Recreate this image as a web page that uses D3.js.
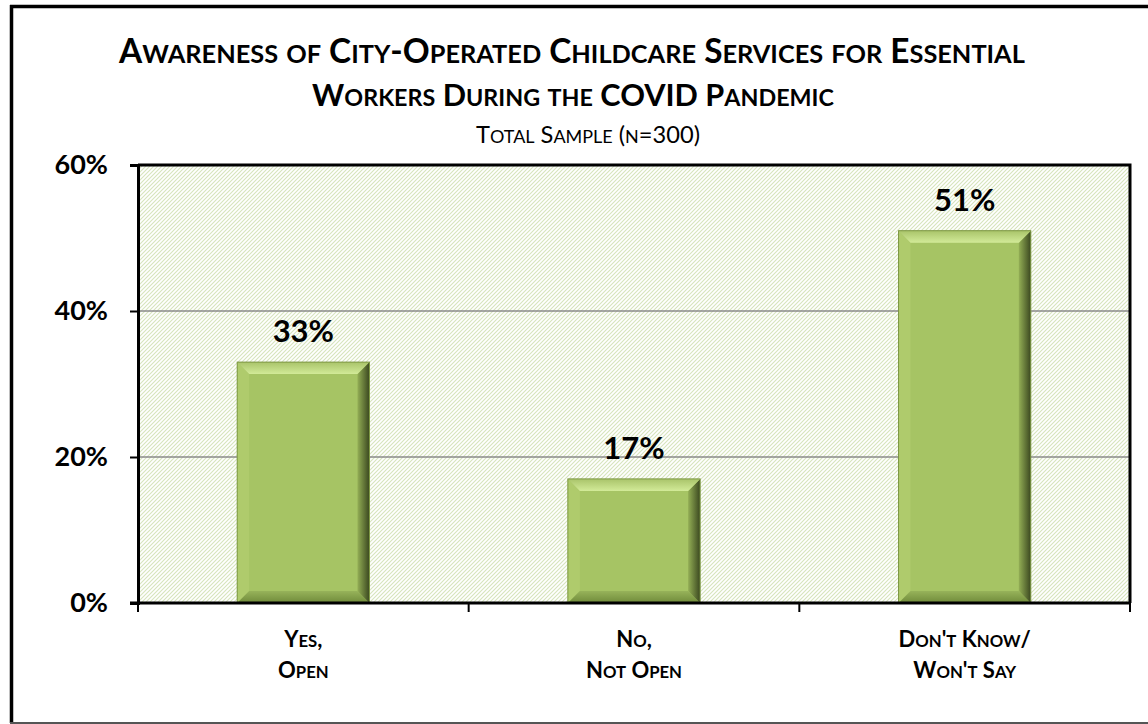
<!DOCTYPE html>
<html>
<head>
<meta charset="utf-8">
<script src="https://cdn.jsdelivr.net/npm/d3@7/dist/d3.min.js"></script>
<style>
  body { margin: 0; background: #fff; }
  svg { display: block; font-family: Lato, "Open Sans", sans-serif; }
</style>
</head>
<body>
<svg id="chart"></svg>
<script>
// chart data
const categories = [["Yes,", "Open"], ["No,", "Not Open"], ["Don't Know/", "Won't Say"]];
const values = [33, 17, 51];
const yTicks = [0, 20, 40, 60];

const W = 1148, H = 724;
const svg = d3.select("#chart").attr("width", W).attr("height", H);

// plot area bounds
const plot = { left: 138, right: 1130, top: 165, bottom: 603 };

// write small caps by hand: lowercase runs become smaller capitals
function smallCaps(sel, str, size, ratio = 0.76) {
    sel.selectAll("tspan").remove();
    const runs = str.match(/[a-z]+|[^a-z]+/g) || [];
    runs.forEach(r => {
        const lower = /[a-z]/.test(r[0]);
        sel.append("tspan")
            .attr("font-size", lower ? size * ratio : size)
            .text(r.toUpperCase());
    });
}

// small caps text whose size is tuned to reach a given width
function fitCaps(sel, str, size, width) {
    smallCaps(sel, str, size);
    const w = sel.node().getComputedTextLength();
    smallCaps(sel, str, size * width / w);
}

const defs = svg.append("defs");

// diagonal hatch for plot background
const pat = defs.append("pattern")
    .attr("id", "hatch")
    .attr("patternUnits", "userSpaceOnUse")
    .attr("width", 4).attr("height", 4);
pat.append("rect").attr("width", 4).attr("height", 4).attr("fill", "#fff");
pat.append("path")
    .attr("d", "M-1,1 l2,-2 M0,4 l4,-4 M3,5 l2,-2")
    .attr("stroke", "#d6e4bc")
    .attr("stroke-width", 1.1);

// bevel gradients
const gr = defs.append("linearGradient").attr("id", "gRight")
    .attr("x1", 0).attr("x2", 1).attr("y1", 0).attr("y2", 0);
gr.append("stop").attr("offset", 0).attr("stop-color", "#93ae55");
gr.append("stop").attr("offset", 1).attr("stop-color", "#3b4820");

const gt = defs.append("linearGradient").attr("id", "gTop")
    .attr("x1", 0).attr("x2", 0).attr("y1", 0).attr("y2", 1);
gt.append("stop").attr("offset", 0).attr("stop-color", "#a9c46a");
gt.append("stop").attr("offset", 1).attr("stop-color", "#d2ea98");

const gb = defs.append("linearGradient").attr("id", "gBottom")
    .attr("x1", 0).attr("x2", 0).attr("y1", 0).attr("y2", 1);
gb.append("stop").attr("offset", 0).attr("stop-color", "#97b35a");
gb.append("stop").attr("offset", 1).attr("stop-color", "#6f8a3a");

// outer frame
svg.append("line").attr("x1", 10).attr("x2", W).attr("y1", 6.5).attr("y2", 6.5)
    .attr("stroke", "#000").attr("stroke-width", 3.5);
svg.append("line").attr("x1", 11.5).attr("x2", 11.5).attr("y1", 5).attr("y2", 723)
    .attr("stroke", "#000").attr("stroke-width", 3.5);
svg.append("line").attr("x1", 10).attr("x2", W).attr("y1", 723).attr("y2", 723)
    .attr("stroke", "#555").attr("stroke-width", 2);

// titles
const t1 = svg.append("text").attr("x", 572).attr("y", 63)
    .attr("text-anchor", "middle").attr("font-weight", "bold");
fitCaps(t1, "Awareness of City-Operated Childcare Services for Essential", 33, 906);
const t2 = svg.append("text").attr("x", 573).attr("y", 106)
    .attr("text-anchor", "middle").attr("font-weight", "bold");
fitCaps(t2, "Workers During the COVID Pandemic", 33, 522);
const st = svg.append("text").attr("x", 588).attr("y", 143)
    .attr("text-anchor", "middle");
fitCaps(st, "Total Sample (n=300)", 23, 224);

// scales
const x = d3.scaleBand()
    .domain(d3.range(categories.length))
    .range([plot.left, plot.right])
    .paddingInner(0.6)
    .paddingOuter(0.3);

const y = d3.scaleLinear()
    .domain([0, 60])
    .range([plot.bottom, plot.top]);

// background
svg.append("rect")
    .attr("x", plot.left).attr("y", plot.top)
    .attr("width", plot.right - plot.left).attr("height", plot.bottom - plot.top)
    .attr("fill", "url(#hatch)");

// gridlines
svg.append("g")
    .selectAll("line")
    .data(yTicks.filter(d => d > 0 && d < 60))
    .join("line")
    .attr("x1", plot.left).attr("x2", plot.right)
    .attr("y1", d => y(d)).attr("y2", d => y(d))
    .attr("stroke", "#8a8a8a").attr("stroke-width", 1.5);

// bars with bevel
const b = 12;
const bars = svg.append("g")
    .selectAll("g")
    .data(values)
    .join("g");

bars.each(function(v, i) {
    const g = d3.select(this);
    const x0 = x(i), x1 = x(i) + x.bandwidth();
    const y0 = y(v), y1 = y(0);
    g.append("rect")
        .attr("x", x0).attr("y", y0).attr("width", x1 - x0).attr("height", y1 - y0)
        .attr("fill", "#a6c464");
    const poly = (pts, fill) => g.append("polygon")
        .attr("points", pts.map(p => p.join(",")).join(" "))
        .attr("fill", fill);
    poly([[x0, y0], [x0 + b, y0 + b], [x0 + b, y1 - b], [x0, y1]], "#afcb6c");
    poly([[x0, y1], [x0 + b, y1 - b], [x1 - b, y1 - b], [x1, y1]], "url(#gBottom)");
    poly([[x1, y0], [x1, y1], [x1 - b, y1 - b], [x1 - b, y0 + b]], "url(#gRight)");
    poly([[x0, y0], [x1, y0], [x1 - b, y0 + b], [x0 + b, y0 + b]], "url(#gTop)");
    g.append("rect")
        .attr("x", x0).attr("y", y0).attr("width", x1 - x0).attr("height", y1 - y0)
        .attr("fill", "none").attr("stroke", "#7d9744").attr("stroke-width", 1);
});

// value labels
svg.append("g")
    .selectAll("text")
    .data(values)
    .join("text")
    .attr("x", (d, i) => x(i) + x.bandwidth() / 2)
    .attr("y", d => y(d) - 20)
    .attr("text-anchor", "middle")
    .attr("font-size", 31)
    .attr("font-weight", "bold")
    .text(d => d + "%");

// plot frame (top, right)
svg.append("path")
    .attr("d", `M${plot.left},${plot.top}H${plot.right}V${plot.bottom}`)
    .attr("fill", "none").attr("stroke", "#000").attr("stroke-width", 3);

// y axis
const yAxis = svg.append("g")
    .attr("transform", `translate(${plot.left},0)`)
    .call(d3.axisLeft(y).tickValues(yTicks).tickSize(8).tickPadding(22)
        .tickFormat(d => d + "%"));
yAxis.select(".domain").attr("stroke", "#000").attr("stroke-width", 3);
yAxis.selectAll(".tick line").attr("stroke-width", 2);
yAxis.selectAll(".tick text")
    .attr("font-family", "Lato, sans-serif")
    .attr("font-size", 27).attr("font-weight", "bold").attr("fill", "#000");

// x axis with ticks between categories
const bounds = [0, 1, 2].map(i => x(i) - x.step() * x.paddingInner() / 2);
bounds[0] = plot.left;
bounds.push(plot.right);
const xAxis = svg.append("g");
xAxis.append("line")
    .attr("x1", plot.left - 8).attr("x2", plot.right)
    .attr("y1", y(0)).attr("y2", y(0))
    .attr("stroke", "#000").attr("stroke-width", 3);
xAxis.selectAll("line.tk")
    .data(bounds)
    .join("line").attr("class", "tk")
    .attr("x1", d => d).attr("x2", d => d)
    .attr("y1", y(0)).attr("y2", y(0) + 9)
    .attr("stroke", "#000").attr("stroke-width", 2);

categories.forEach((lines, i) => {
    const cx = x(i) + x.bandwidth() / 2;
    lines.forEach((s, j) => {
        const t = xAxis.append("text")
            .attr("x", cx).attr("y", 647 + j * 31)
            .attr("text-anchor", "middle")
            .attr("font-weight", "bold");
        smallCaps(t, s, 22);
    });
});
</script>
</body>
</html>
